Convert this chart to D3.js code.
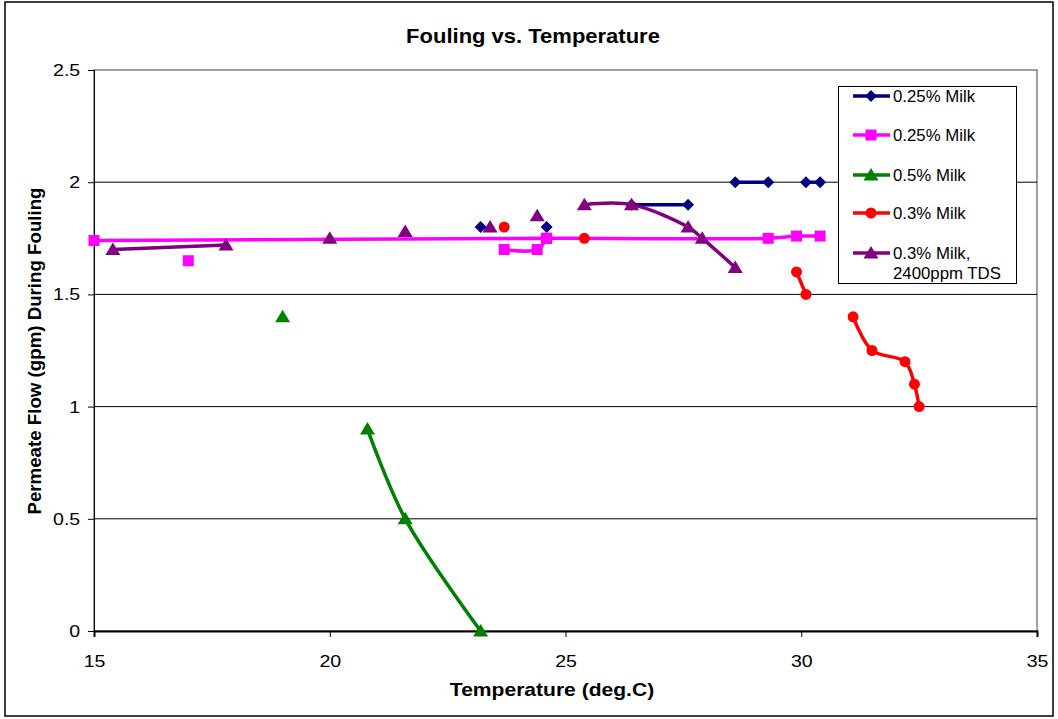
<!DOCTYPE html>
<html lang="en">
<head>
    <meta charset="UTF-8">
    <title>Fouling vs. Temperature</title>
    <style>
        body { margin: 0; background: #ffffff; }
        svg { display: block; font-family: "Liberation Sans", Arial, sans-serif; }
    </style>
    <script src="https://d3js.org/d3.v7.min.js"></script>
</head>
<body>
    <svg width="1058" height="719"></svg>
    <script>
        // data (null = gap in the line)
        const navyX = [23.2, null, 24.6, null, 26.4, 27.6, null, 28.6, 29.3, null, 30.1, 30.4];
        const navyY = [1.8, null, 1.8, null, 1.9, 1.9, null, 2.0, 2.0, null, 2.0, 2.0];

        const pinkX = [15.0, 24.6, 29.3, 29.9, 30.4, null, 17.0, null, 23.7, 24.4, 24.6];
        const pinkY = [1.74, 1.75, 1.75, 1.76, 1.76, null, 1.65, null, 1.70, 1.70, 1.75];

        const greenX = [19.0, null, 20.8, 21.6, 23.2];
        const greenY = [1.4, null, 0.9, 0.5, 0.0];

        const redX = [23.7, null, 25.4, null, 29.9, 30.1, null, 31.1, 31.5, 32.2, 32.4, 32.5];
        const redY = [1.8, null, 1.75, null, 1.6, 1.5, null, 1.4, 1.25, 1.2, 1.1, 1.0];

        const purpleX = [15.4, 17.8, null, 20.0, null, 21.6, null, 23.4, null, 24.4, null, 25.4, 26.4, 27.6, 27.9, 28.6];
        const purpleY = [1.70, 1.72, null, 1.75, null, 1.78, null, 1.80, null, 1.85, null, 1.90, 1.90, 1.80, 1.75, 1.62];

        const seriesNames = ["0.25% Milk", "0.25% Milk", "0.5% Milk", "0.3% Milk", "0.3% Milk,|2400ppm TDS"];
        const xTicks = [15, 20, 25, 30, 35];
        const yTicks = [0, 0.5, 1, 1.5, 2, 2.5];

        const series = [
            { name: seriesNames[0], xs: navyX, ys: navyY, color: "#000080", shape: "diamond" },
            { name: seriesNames[1], xs: pinkX, ys: pinkY, color: "#ff00ff", shape: "square" },
            { name: seriesNames[2], xs: greenX, ys: greenY, color: "#008000", shape: "triangle" },
            { name: seriesNames[3], xs: redX, ys: redY, color: "#ff0000", shape: "circle" },
            { name: seriesNames[4], xs: purpleX, ys: purpleY, color: "#800080", shape: "triangle" }
        ];

        const svg = d3.select("svg");
        const plot = { left: 94, top: 70, right: 1037, bottom: 631 };

        const x = d3.scaleLinear().domain([15, 35]).range([plot.left, plot.right]);
        const y = d3.scaleLinear().domain([0, 2.5]).range([plot.bottom, plot.top]);

        // outer frame
        svg.append("rect")
            .attr("x", 5).attr("y", 2).attr("width", 1048).attr("height", 714)
            .attr("fill", "#fff").attr("stroke", "#000").attr("stroke-width", 1.5);

        // plot area border
        svg.append("rect")
            .attr("x", plot.left).attr("y", plot.top)
            .attr("width", plot.right - plot.left).attr("height", plot.bottom - plot.top)
            .attr("fill", "none").attr("stroke", "#808080").attr("stroke-width", 1.5);

        // gridlines
        svg.append("g")
            .selectAll("line")
            .data(yTicks.filter(d => d > 0 && d < 2.5))
            .join("line")
            .attr("x1", plot.left).attr("x2", plot.right)
            .attr("y1", d => y(d)).attr("y2", d => y(d))
            .attr("stroke", "#000").attr("stroke-width", 1);

        // axes (text is a little wider than tall in the original)
        const xAxis = svg.append("g")
            .attr("transform", `translate(0,${plot.bottom})`)
            .call(d3.axisBottom(x).tickValues(xTicks).tickSize(6).tickPadding(18));
        xAxis.select(".domain").attr("stroke", "#000").attr("stroke-width", 2);
        xAxis.selectAll("text").attr("font-size", 17).attr("fill", "#000")
            .attr("transform", "scale(1.15,1)")
            .attr("font-family", "Liberation Sans, Arial, sans-serif");

        const yAxis = svg.append("g")
            .attr("transform", `translate(${plot.left},0)`)
            .call(d3.axisLeft(y).tickValues(yTicks).tickFormat(d3.format("")).tickSize(6).tickPadding(6));
        yAxis.select(".domain").attr("stroke", "#000").attr("stroke-width", 1);
        yAxis.selectAll("text").attr("font-size", 17).attr("fill", "#000")
            .attr("transform", "scale(1.15,1)")
            .attr("font-family", "Liberation Sans, Arial, sans-serif");

        // titles
        svg.append("text")
            .attr("transform", "translate(533,43) scale(1.1,1)")
            .attr("text-anchor", "middle")
            .attr("font-size", 20).attr("font-weight", "bold")
            .text("Fouling vs. Temperature");

        svg.append("text")
            .attr("transform", "translate(552,696) scale(1.17,1)")
            .attr("text-anchor", "middle")
            .attr("font-size", 18).attr("font-weight", "bold")
            .text("Temperature (deg.C)");

        svg.append("text")
            .attr("transform", "translate(41,351) rotate(-90)")
            .attr("text-anchor", "middle")
            .attr("font-size", 18.7).attr("font-weight", "bold")
            .text("Permeate Flow (gpm) During Fouling");

        // marker shapes
        function markerPath(shape) {
            const p = d3.path();
            if (shape === "diamond") {
                const r = 6;
                p.moveTo(0, -r); p.lineTo(r, 0); p.lineTo(0, r); p.lineTo(-r, 0); p.closePath();
            } else if (shape === "square") {
                const r = 5.5;
                p.rect(-r, -r, 2 * r, 2 * r);
            } else if (shape === "triangle") {
                p.moveTo(0, -7); p.lineTo(7.5, 5.5); p.lineTo(-7.5, 5.5); p.closePath();
            } else {
                p.arc(0, 0, 5.5, 0, 2 * Math.PI);
            }
            return p.toString();
        }

        const line = d3.line()
            .defined(d => d.y != null)
            .x(d => x(d.x))
            .y(d => y(d.y))
            .curve(d3.curveCatmullRom.alpha(0.5));

        series.forEach(s => {
            const pts = s.xs.map((v, i) => ({ x: v, y: s.ys[i] }));
            const g = svg.append("g");
            g.append("path")
                .datum(pts)
                .attr("d", line)
                .attr("fill", "none")
                .attr("stroke", s.color)
                .attr("stroke-width", 3.5)
                .attr("stroke-linejoin", "round");
            g.selectAll("path.m")
                .data(pts.filter(d => d.y != null))
                .join("path")
                .attr("class", "m")
                .attr("transform", d => `translate(${x(d.x)},${y(d.y)})`)
                .attr("d", markerPath(s.shape))
                .attr("fill", s.color);
        });

        // legend
        const legend = svg.append("g");
        legend.append("rect")
            .attr("x", 838.5).attr("y", 86.5).attr("width", 178).attr("height", 197)
            .attr("fill", "#fff").attr("stroke", "#000").attr("stroke-width", 1);

        const rowY = [96, 135, 175, 213, 253];
        series.forEach((s, i) => {
            const ly = rowY[i];
            legend.append("line")
                .attr("x1", 853).attr("x2", 890)
                .attr("y1", ly).attr("y2", ly)
                .attr("stroke", s.color).attr("stroke-width", 3.5);
            legend.append("path")
                .attr("transform", `translate(871,${ly})`)
                .attr("d", markerPath(s.shape))
                .attr("fill", s.color);
            const parts = s.name.split("|");
            const t = legend.append("text")
                .attr("transform", `translate(893,${ly + 6}) scale(1.05,1)`)
                .attr("font-size", 16);
            parts.forEach((p, k) => {
                t.append("tspan").attr("x", 0).attr("dy", k === 0 ? 0 : 20).text(p);
            });
        });
    </script>
</body>
</html>
